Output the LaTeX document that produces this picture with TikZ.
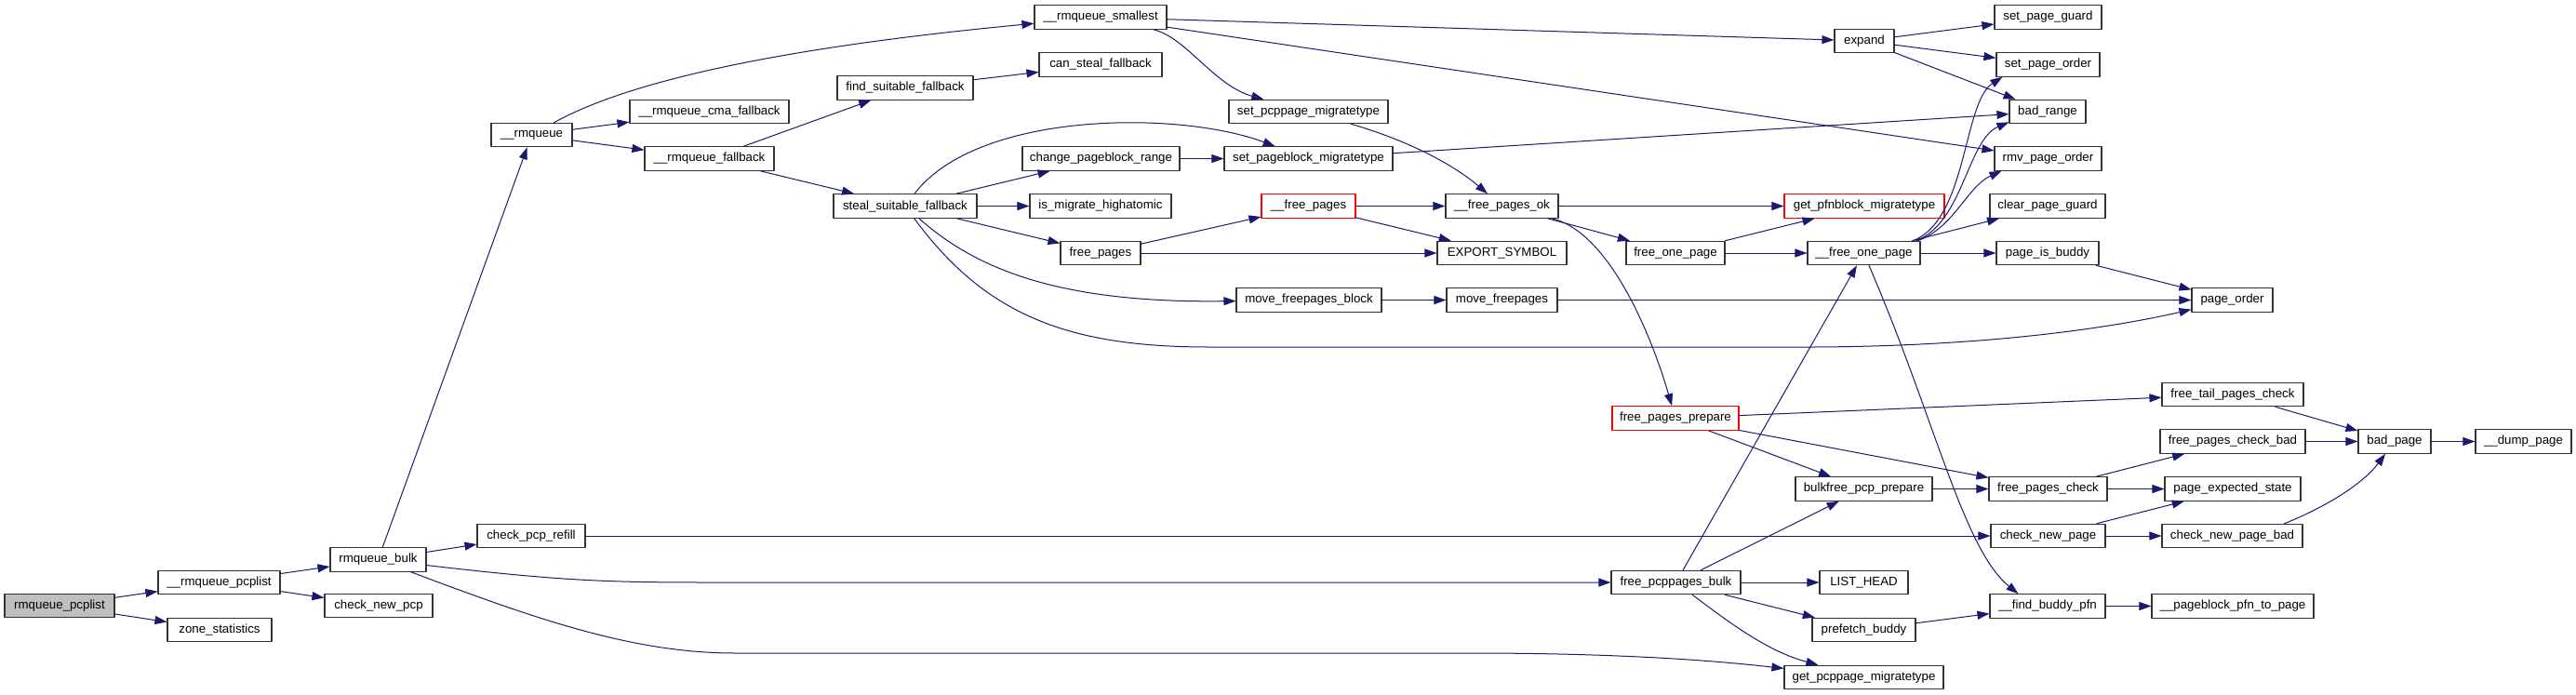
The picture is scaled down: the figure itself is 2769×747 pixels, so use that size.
\documentclass[tikz,border=0pt]{standalone}
\usepackage{fontspec}
\setmainfont{Liberation Sans}
\usetikzlibrary{arrows.meta}
\definecolor{edgeblue}{HTML}{191970}
\definecolor{rootgray}{HTML}{BFBFBF}
\begin{document}
\begin{tikzpicture}[x=1pt, y=-1pt, line cap=round, line join=round,
    fn/.style={draw=black!80, line width=1.1pt, fill=white, minimum height=25.5pt,
      inner xsep=1pt, inner ysep=0pt, font=\fontsize{13.3pt}{15pt}\selectfont},
    root/.style={fn, fill=rootgray},
    trunc/.style={fn, draw=red},
    call/.style={draw=edgeblue, line width=1pt, -{Triangle[length=13pt,width=9pt]}}]
  \useasboundingbox (0,0) rectangle (2769,747);
  \node[root, minimum width=118pt] (rqpl) at (64,651) {rmqueue\_pcplist};
  \node[fn, minimum width=131pt] (urqpl) at (235.5,626) {\_\_rmqueue\_pcplist};
  \node[fn, minimum width=112pt] (zstat) at (236,677) {zone\_statistics};
  \node[fn, minimum width=103pt] (rqbulk) at (406.5,601.5) {rmqueue\_bulk};
  \node[fn, minimum width=116pt] (cnpcp) at (407,651) {check\_new\_pcp};
  \node[fn, minimum width=116pt] (cpcpr) at (571,576) {check\_pcp\_refill};
  \node[fn, minimum width=87pt] (urq) at (571.5,145) {\_\_rmqueue};
  \node[fn, minimum width=171pt] (urqcma) at (762.5,120) {\_\_rmqueue\_cma\_fallback};
  \node[fn, minimum width=139pt] (urqfb) at (762.5,170.5) {\_\_rmqueue\_fallback};
  \node[fn, minimum width=142pt] (urqsm) at (1183,18.5) {\_\_rmqueue\_smallest};
  \node[fn, minimum width=146pt] (findsf) at (973,94.5) {find\_suitable\_fallback};
  \node[fn, minimum width=132pt] (cansf) at (1183,69.5) {can\_steal\_fallback};
  \node[fn, minimum width=154pt] (stealsf) at (973,221.5) {steal\_suitable\_fallback};
  \node[fn, minimum width=169pt] (chpbr) at (1183.5,170.5) {change\_pageblock\_range};
  \node[fn, minimum width=152pt] (ismh) at (1183,221.5) {is\_migrate\_highatomic};
  \node[fn, minimum width=86pt] (fpages) at (1183,272) {free\_pages};
  \node[fn, minimum width=171pt] (setpcpm) at (1406.5,120) {set\_pcppage\_migratetype};
  \node[fn, minimum width=181pt] (setpbm) at (1406.5,170.5) {set\_pageblock\_migratetype};
  \node[trunc, minimum width=101pt] (ufpages) at (1406.5,221.5) {\_\_free\_pages};
  \node[fn, minimum width=156pt] (mvfpb) at (1407,322.5) {move\_freepages\_block};
  \node[fn, minimum width=64pt] (expand) at (2004,44) {expand};
  \node[fn, minimum width=121pt] (ufpok) at (1614.5,221.5) {\_\_free\_pages\_ok};
  \node[fn, minimum width=139pt] (expsym) at (1614.5,272) {EXPORT\_SYMBOL};
  \node[fn, minimum width=119pt] (mvfp) at (1614.5,322.5) {move\_freepages};
  \node[trunc, minimum width=172pt] (getpfn) at (2004,221.5) {get\_pfnblock\_migratetype};
  \node[fn, minimum width=106pt] (fop) at (1801,272) {free\_one\_page};
  \node[fn, minimum width=121pt] (ufop) at (2003.5,272) {\_\_free\_one\_page};
  \node[fn, minimum width=115pt] (spguard) at (2201.5,18.5) {set\_page\_guard};
  \node[fn, minimum width=111pt] (sporder) at (2201.5,69.5) {set\_page\_order};
  \node[fn, minimum width=82pt] (badrange) at (2201,120) {bad\_range};
  \node[fn, minimum width=115pt] (rmvpo) at (2201.5,170.5) {rmv\_page\_order};
  \node[fn, minimum width=124pt] (clrpg) at (2201,221.5) {clear\_page\_guard};
  \node[fn, minimum width=110pt] (pgbuddy) at (2201,272) {page\_is\_buddy};
  \node[fn, minimum width=87pt] (pgorder) at (2399.5,322.5) {page\_order};
  \node[trunc, minimum width=136pt] (fpprep) at (1801,449.5) {free\_pages\_prepare};
  \node[fn, minimum width=147pt] (bfpcp) at (2003.5,525.5) {bulkfree\_pcp\_prepare};
  \node[fn, minimum width=139pt] (fpcpb) at (1801.5,626) {free\_pcppages\_bulk};
  \node[fn, minimum width=95pt] (listhead) at (2003.5,626) {LIST\_HEAD};
  \node[fn, minimum width=111pt] (prefb) at (2003.5,677) {prefetch\_buddy};
  \node[fn, minimum width=171pt] (getpcpm) at (2003.5,728) {get\_pcppage\_migratetype};
  \node[fn, minimum width=152pt] (ftpc) at (2400,424) {free\_tail\_pages\_check};
  \node[fn, minimum width=156pt] (fpcb) at (2400,474.5) {free\_pages\_check\_bad};
  \node[fn, minimum width=78pt] (badpage) at (2574,474.5) {bad\_page};
  \node[fn, minimum width=103pt] (dump) at (2712.5,474.5) {\_\_dump\_page};
  \node[fn, minimum width=127pt] (fpchk) at (2201.5,525.5) {free\_pages\_check};
  \node[fn, minimum width=146pt] (pgexp) at (2400,525.5) {page\_expected\_state};
  \node[fn, minimum width=123pt] (cnpage) at (2201.5,576) {check\_new\_page};
  \node[fn, minimum width=151pt] (cnpbad) at (2399.5,576) {check\_new\_page\_bad};
  \node[fn, minimum width=124pt] (fbpfn) at (2201,651.5) {\_\_find\_buddy\_pfn};
  \node[fn, minimum width=174pt] (pbpfn) at (2400,651.5) {\_\_pageblock\_pfn\_to\_page};
  \draw[call] (rqpl) -- (urqpl);
  \draw[call] (rqpl) -- (zstat);
  \draw[call] (urqpl) -- (rqbulk);
  \draw[call] (urqpl) -- (cnpcp);
  \draw[call] (rqbulk) -- (urq);
  \draw[call] (rqbulk) -- (cpcpr);
  \draw[call] (rqbulk) .. controls (600,624) and (650,626) .. (760,626) -- (fpcpb);
  \draw[call] (rqbulk) .. controls (575,665) and (680,702) .. (790,702) -- (1580,702)
    .. controls (1760,702) and (1860,712) .. (getpcpm);
  \draw[call] (cpcpr) -- (cnpage);
  \draw[call] (urq) .. controls (680,85) and (850,50) .. (urqsm);
  \draw[call] (urq) -- (urqcma);
  \draw[call] (urq) -- (urqfb);
  \draw[call] (urqfb) -- (findsf);
  \draw[call] (urqfb) -- (stealsf);
  \draw[call] (findsf) -- (cansf);
  \draw[call] (urqsm) -- (expand);
  \draw[call] (urqsm) -- (rmvpo);
  \draw[call] (urqsm) .. controls (1275,40) and (1305,92) .. (setpcpm);
  \draw[call] (expand) -- (spguard);
  \draw[call] (expand) -- (sporder);
  \draw[call] (expand) -- (badrange);
  \draw[call] (stealsf) .. controls (1050,120) and (1265,118) .. (setpbm);
  \draw[call] (stealsf) -- (chpbr);
  \draw[call] (stealsf) -- (ismh);
  \draw[call] (stealsf) -- (fpages);
  \draw[call] (stealsf) .. controls (1050,290) and (1140,326) .. (mvfpb);
  \draw[call] (stealsf) .. controls (1060,340) and (1150,373) .. (1300,373) -- (1950,373)
    .. controls (2150,372) and (2280,350) .. (pgorder);
  \draw[call] (chpbr) -- (setpbm);
  \draw[call] (setpbm) -- (badrange);
  \draw[call] (setpcpm) .. controls (1510,150) and (1560,175) .. (ufpok);
  \draw[call] (fpages) -- (ufpages);
  \draw[call] (fpages) -- (expsym);
  \draw[call] (ufpages) -- (ufpok);
  \draw[call] (ufpages) -- (expsym);
  \draw[call] (ufpok) -- (getpfn);
  \draw[call] (ufpok) -- (fop);
  \draw[call] (ufpok) .. controls (1730,250) and (1775,360) .. (fpprep);
  \draw[call] (fop) -- (getpfn);
  \draw[call] (fop) -- (ufop);
  \draw[call] ([xshift=-8pt]ufop.north east) .. controls (2115,235) and (2110,110) .. ([xshift=7pt]sporder.south west);
  \draw[call] ([xshift=-5pt]ufop.north east) .. controls (2110,240) and (2115,150) .. ([yshift=2pt]badrange.south west);
  \draw[call] ([xshift=-3pt]ufop.north east) .. controls (2100,245) and (2115,200) .. ([xshift=8pt]rmvpo.south west);
  \draw[call] (ufop) -- (clrpg);
  \draw[call] (ufop) -- (pgbuddy);
  \draw[call] ([xshift=5.5pt]ufop.south) .. controls (2080,450) and (2110,590) .. ([xshift=31pt]fbpfn.north west);
  \draw[call] (mvfpb) -- (mvfp);
  \draw[call] (mvfp) -- (pgorder);
  \draw[call] (pgbuddy) -- (pgorder);
  \draw[call] (fpprep) -- (ftpc);
  \draw[call] (fpprep) -- (fpchk);
  \draw[call] (fpprep) -- (bfpcp);
  \draw[call] (bfpcp) -- (fpchk);
  \draw[call] (fpcpb) -- (ufop);
  \draw[call] (fpcpb) -- (bfpcp);
  \draw[call] (fpcpb) -- (listhead);
  \draw[call] (fpcpb) -- (prefb);
  \draw[call] (fpcpb) .. controls (1860,670) and (1900,700) .. (getpcpm);
  \draw[call] (prefb) -- (fbpfn);
  \draw[call] (fpchk) -- (fpcb);
  \draw[call] (fpchk) -- (pgexp);
  \draw[call] (cnpage) -- (pgexp);
  \draw[call] (cnpage) -- (cnpbad);
  \draw[call] (ftpc) -- (badpage);
  \draw[call] (fpcb) -- (badpage);
  \draw[call] ([xshift=-20pt]cnpbad.north east) .. controls (2500,545) and (2540,520) .. (badpage);
  \draw[call] (badpage) -- (dump);
  \draw[call] (fbpfn) -- (pbpfn);
\end{tikzpicture}
\end{document}
